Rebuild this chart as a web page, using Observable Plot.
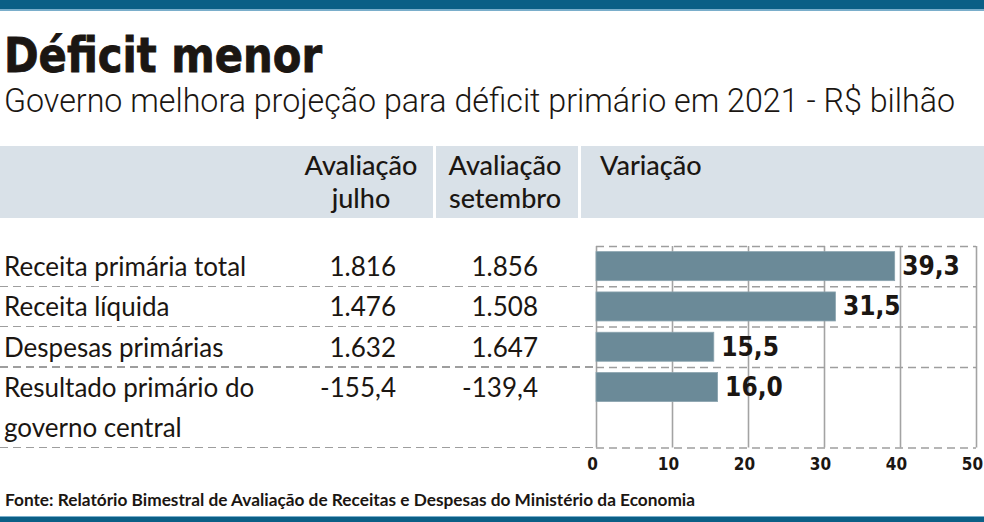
<!DOCTYPE html>
<html>
<head>
<meta charset="utf-8">
<script src="https://cdn.jsdelivr.net/npm/d3@7"></script>
<script src="https://cdn.jsdelivr.net/npm/@observablehq/plot@0.6"></script>
<style>
  body { margin: 0; background: #fff; }
  #page { position: relative; width: 984px; height: 522px; overflow: hidden; background: #fff; color: #1b1612; font-family: Lato, sans-serif; }
  .topbar { position: absolute; left: 0; top: 0; width: 984px; height: 9px; background: #0b5f86; border-bottom: 2px solid #7aaecb; }
  .bottombar { position: absolute; left: 0; top: 516px; width: 984px; height: 6px; background: #0b5f86; border-top: 1px solid #7aaecb; }
  h1 { position: absolute; left: 4px; top: 30px; margin: 0; font: bold 48px/50px "DejaVu Sans"; -webkit-text-stroke: 0.9px #1b1612; white-space: nowrap; transform-origin: left center; }
  .sub { position: absolute; left: 4px; top: 80px; margin: 0; font: 300 34px/40px Roboto; white-space: nowrap; transform-origin: left center; }
  .band { position: absolute; left: 0; top: 146px; width: 984px; height: 72px; background: #d9e1e8; }
  .sep { position: absolute; top: 146px; width: 3px; height: 72px; background: #fff; }
  .head { position: absolute; font-size: 27px; line-height: 33px; font-weight: 500; white-space: nowrap; }
  .cell { position: absolute; font-size: 26px; white-space: nowrap; }
  .dash { position: absolute; left: 0; height: 1.5px; background: repeating-linear-gradient(to right, #9e9e9e 0 8px, transparent 8px 13px); }
  #chart { position: absolute; left: 560px; top: 230px; }
  .foot { position: absolute; left: 5px; top: 490px; font: 700 17px/20px Lato; white-space: nowrap; transform-origin: left center; }
</style>
</head>
<body>
<div id="page">
  <div class="topbar"></div>
  <h1 id="title">Déficit menor</h1>
  <div class="sub" id="subtitle">Governo melhora projeção para déficit primário em 2021 - R$ bilhão</div>
  <div class="band"></div>
  <div class="sep" style="left:433px"></div>
  <div class="sep" style="left:578px"></div>
  <div id="chart"></div>
  <div class="foot" id="source">Fonte: Relatório Bimestral de Avaliação de Receitas e Despesas do Ministério da Economia</div>
  <div class="bottombar"></div>
</div>
<script>
// Rows of the table, in display order
const categories = ["Receita primária total", "Receita líquida", "Despesas primárias", "Resultado primário do governo central"];
// Label split into lines (the last row wraps onto two lines)
const labelLines = [["Receita primária total"], ["Receita líquida"], ["Despesas primárias"], ["Resultado primário do", "governo central"]];
// Projections, R$ bilhão
const julho = [1816, 1476, 1632, -155.4];
const setembro = [1856, 1508, 1647, -139.4];
// Change between the two assessments, R$ bilhão
const variacao = [39.3, 31.5, 15.5, 16.0];
// Column headers and axis ticks
const headers = [["Avaliação", "julho"], ["Avaliação", "setembro"], ["Variação"]];
const xTicks = [0, 10, 20, 30, 40, 50];

// Brazilian number formatting: 1.816 / -155,4 / 39,3
const br = d3.formatLocale({decimal: ",", thousands: ".", grouping: [3], currency: ["R$", ""], minus: "-"});
const fmtTable = v => Number.isInteger(v) ? br.format(",.0f")(v) : br.format(",.1f")(v);
const fmtVar = br.format(".1f");

// Condensed headline type: squeeze a line of text to a given width
function fitWidth(id, target) {
  const el = document.getElementById(id);
  const w = el.getBoundingClientRect().width;
  el.style.transform = `scaleX(${target / w})`;
}
fitWidth("title", 318);
fitWidth("subtitle", 951);
fitWidth("source", 690);

// Layout of the body rows (page coordinates)
const rowTop = 246;      // top of the first row
const rowH = 40.3;       // height of one text line / row slot
const svgLeft = 560, svgTop = 230, svgW = 424;
const x0px = 596, x50px = 976;

// Each row takes as many slots as its label has lines
const starts = [];
let acc = 0;
labelLines.forEach(l => { starts.push(acc); acc += l.length; });
const totalSlots = acc;

const rows = categories.map((c, i) => ({
  name: c, lines: labelLines[i], julho: julho[i], setembro: setembro[i], v: variacao[i], start: starts[i]
}));

const page = document.getElementById("page");
function addDiv(cls, html, style) {
  const d = document.createElement("div");
  d.className = cls;
  d.innerHTML = html;
  Object.assign(d.style, style);
  page.appendChild(d);
  return d;
}

// Column headers
addDiv("head", headers[0].join("<br>"), {left: "300px", width: "122px", top: "148px", textAlign: "center"});
addDiv("head", headers[1].join("<br>"), {left: "443px", width: "124px", top: "148px", textAlign: "center"});
addDiv("head", headers[2].join("<br>"), {left: "600px", top: "148px"});

// Table text: labels and both assessments
rows.forEach(r => {
  const top = rowTop + r.start * rowH;
  addDiv("cell", r.lines.join("<br>"), {left: "4px", top: top + "px", lineHeight: rowH + "px"});
  addDiv("cell", fmtTable(r.julho), {left: "300px", width: "96px", textAlign: "right", top: top + "px", lineHeight: rowH + "px"});
  addDiv("cell", fmtTable(r.setembro), {left: "440px", width: "98px", textAlign: "right", top: top + "px", lineHeight: rowH + "px"});
});

// Dashed row separators across the table part (the chart draws its own)
const boundaries = [...starts.slice(1), totalSlots];
boundaries.forEach(b => {
  addDiv("dash", "", {top: (rowTop + b * rowH - 0.75) + "px", width: x0px + "px"});
});

// Bar chart of the change
const marginTop = rowTop - svgTop;
const plotH = totalSlots * rowH;
const height = 250;
const chart = Plot.plot({
  width: svgW,
  height,
  marginLeft: x0px - svgLeft,
  marginRight: svgLeft + svgW - x50px,
  marginTop,
  marginBottom: height - marginTop - plotH,
  x: {domain: [0, 50], axis: null, label: null},
  y: {domain: [0, totalSlots], reverse: true, axis: null, label: null},
  style: {background: "transparent", overflow: "visible"},
  marks: [
    Plot.ruleX(xTicks, {stroke: "#a3a3a3", strokeWidth: 1.6}),
    Plot.ruleY([0, ...boundaries], {stroke: "#9e9e9e", strokeWidth: 1.5, strokeDasharray: "8,5"}),
    Plot.rect(rows, {x1: () => 0, x2: "v", y1: d => d.start + 0.14, y2: d => d.start + 0.86, fill: "#6b8a98", stroke: "#8aa3ae", strokeWidth: 0.8}),
    Plot.text(rows, {x: "v", y: d => d.start + 0.5, text: d => fmtVar(d.v), textAnchor: "start", dx: 7, fontSize: 26, fontWeight: "bold", fontFamily: "DejaVu Sans Condensed", fill: "#1b1612"}),
    Plot.axisX(xTicks, {anchor: "bottom", label: null, tickSize: 0, tickPadding: 10, dx: -4, fontSize: 17, fontWeight: "bold", fontFamily: "DejaVu Sans Condensed", color: "#1b1612", tickFormat: d => String(d)})
  ]
});
document.getElementById("chart").appendChild(chart);
</script>
</body>
</html>
